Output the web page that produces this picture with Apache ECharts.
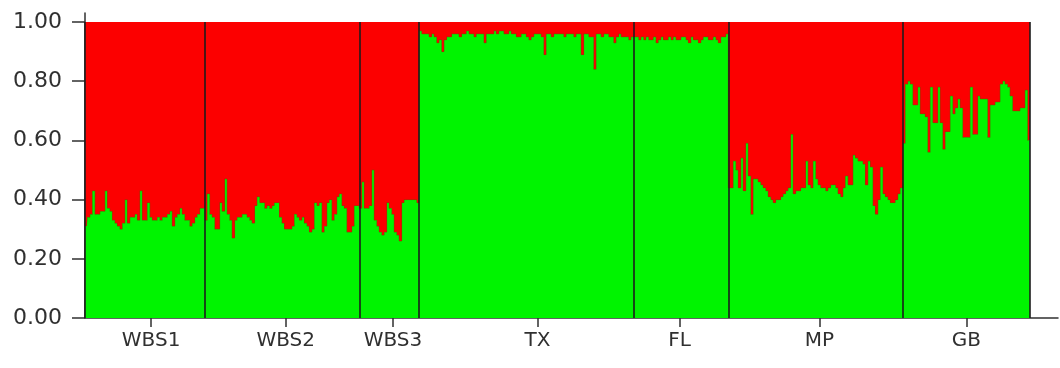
<!DOCTYPE html>
<html>
<head>
<meta charset="utf-8">
<script src="https://cdn.jsdelivr.net/npm/echarts@6/dist/echarts.min.js"></script>
<style>
  html, body { margin: 0; padding: 0; background: #ffffff; }
  #chart { width: 1060px; height: 368px; }
</style>
</head>
<body>
<div id="chart"></div>
<script>
// Membership proportion in cluster 1 (green) for each individual, by population.
// Cluster 2 (red) is the remainder of each bar.
const populations = ['WBS1', 'WBS2', 'WBS3', 'TX', 'FL', 'MP', 'GB'];

const wbs1 = [0.31,0.34,0.35,0.43,0.35,0.35,0.36,0.36,0.43,0.37,0.36,0.33,0.32,0.31,0.30,0.32,0.40,0.32,0.34,0.34,
  0.35,0.33,0.43,0.33,0.33,0.39,0.34,0.33,0.33,0.34,0.33,0.34,0.34,0.35,0.36,0.31,0.34,0.35,0.37,0.35,
  0.33,0.33,0.31,0.32,0.34,0.35,0.37,0.37];
const wbs2 = [0.33,0.42,0.35,0.34,0.30,0.30,0.39,0.36,0.47,0.35,0.33,0.27,0.33,0.34,0.34,0.35,0.35,0.34,0.33,0.32,
  0.38,0.41,0.39,0.39,0.37,0.38,0.37,0.38,0.39,0.39,0.34,0.32,0.30,0.30,0.30,0.31,0.35,0.34,0.33,0.34,
  0.32,0.31,0.29,0.30,0.39,0.38,0.39,0.29,0.31,0.39,0.40,0.33,0.35,0.41,0.42,0.38,0.37,0.29,0.29,0.31,
  0.38,0.38];
const wbs3 = [0.37,0.46,0.37,0.37,0.38,0.50,0.33,0.31,0.29,0.28,0.29,0.39,0.37,0.35,0.29,0.28,0.26,0.39,0.40,0.40,
  0.40,0.40,0.40,0.39];
const tx = [0.97,0.96,0.96,0.96,0.95,0.96,0.95,0.93,0.94,0.90,0.94,0.95,0.95,0.96,0.96,0.96,0.95,0.96,0.96,0.97,
  0.96,0.96,0.95,0.96,0.96,0.96,0.93,0.96,0.96,0.96,0.97,0.96,0.97,0.97,0.96,0.96,0.97,0.96,0.96,0.95,
  0.95,0.96,0.96,0.95,0.94,0.95,0.96,0.96,0.96,0.95,0.89,0.96,0.96,0.95,0.96,0.96,0.96,0.96,0.95,0.96,
  0.96,0.96,0.95,0.96,0.96,0.89,0.96,0.96,0.95,0.95,0.84,0.96,0.96,0.95,0.96,0.96,0.95,0.95,0.93,0.95,
  0.96,0.95,0.95,0.95,0.94,0.95];
const fl = [0.95,0.95,0.94,0.95,0.94,0.95,0.94,0.94,0.95,0.93,0.94,0.95,0.94,0.94,0.95,0.94,0.95,0.94,0.94,0.95,
  0.95,0.94,0.93,0.95,0.94,0.94,0.93,0.94,0.95,0.95,0.94,0.94,0.95,0.94,0.93,0.95,0.95,0.96];
const mp = [0.44,0.44,0.53,0.50,0.44,0.54,0.43,0.59,0.48,0.35,0.47,0.47,0.46,0.45,0.44,0.43,0.41,0.40,0.39,0.40,
  0.40,0.41,0.42,0.43,0.44,0.62,0.42,0.43,0.43,0.44,0.44,0.53,0.45,0.44,0.53,0.47,0.45,0.44,0.44,0.43,
  0.44,0.45,0.45,0.44,0.42,0.41,0.44,0.48,0.45,0.45,0.55,0.54,0.53,0.53,0.52,0.45,0.53,0.51,0.38,0.35,
  0.40,0.51,0.42,0.41,0.40,0.39,0.39,0.40,0.42,0.44];
const gb = [0.59,0.79,0.80,0.79,0.72,0.72,0.78,0.69,0.69,0.68,0.56,0.78,0.66,0.66,0.78,0.66,0.57,0.63,0.63,0.75,
  0.69,0.71,0.74,0.71,0.61,0.61,0.61,0.78,0.62,0.62,0.75,0.74,0.74,0.74,0.61,0.72,0.72,0.73,0.73,0.79,
  0.80,0.79,0.78,0.75,0.70,0.70,0.70,0.71,0.71,0.77,0.60];

// Individual (within each population) under which the population name is written
const labelOffset = [26, 32, 13, 47, 18, 36, 25];

// Y-axis tick values
const yTicks = [0, 0.2, 0.4, 0.6, 0.8, 1.0];

const groups = [wbs1, wbs2, wbs3, tx, fl, mp, gb];

const categories = [];
const green = [];
const groupStarts = new Set();
const labelPositions = new Map();
groups.forEach((vals, g) => {
  const start = categories.length;
  groupStarts.add(start);
  labelPositions.set(start + labelOffset[g], populations[g]);
  vals.forEach((v, i) => {
    categories.push(populations[g] + '_' + (i + 1));
    green.push(v);
  });
});
const red = green.map(v => +(1 - v).toFixed(4));
// [individual index, cluster 1 share, cluster 2 share]
const barData = green.map((g, i) => [i, g, red[i]]);

const GREEN = '#00f400';
const RED = '#fc0000';
const INK = '#303030';
const FONT = 'DejaVu Sans';

// One stacked bar per individual; edges snapped to whole pixels so
// neighbouring bars tile without hairline gaps.
function renderIndividual(params, api) {
  const idx = api.value(0);
  const q1 = api.value(1);
  const q2 = api.value(2);
  const base = api.coord([idx, 0]);
  const bw = api.size([1, 0])[0];
  const x0 = Math.round(base[0] - bw / 2);
  const x1 = Math.round(base[0] + bw / 2);
  const yBase = Math.round(base[1]);
  const yMid = Math.round(api.coord([idx, q1])[1]);
  const yTop = Math.round(api.coord([idx, q1 + q2])[1]);
  return {
    type: 'group',
    children: [
      { type: 'rect', shape: { x: x0, y: yMid, width: x1 - x0, height: yBase - yMid }, style: { fill: GREEN } },
      { type: 'rect', shape: { x: x0, y: yTop, width: x1 - x0, height: yMid - yTop }, style: { fill: RED } }
    ]
  };
}

const chart = echarts.init(document.getElementById('chart'), null, { renderer: 'canvas' });

chart.setOption({
  animation: false,
  backgroundColor: '#ffffff',
  grid: [
    { left: 85, right: 30, top: 22, bottom: 50, containLabel: false },
    { left: 85, right: 2, top: 13, bottom: 50, containLabel: false }
  ],
  xAxis: [
    {
      type: 'category',
      gridIndex: 0,
      data: categories,
      boundaryGap: true,
      z: 10,
      axisLine: { show: false },
      axisTick: {
        show: true,
        alignWithLabel: true,
        length: 9,
        interval: (idx) => labelPositions.has(idx),
        lineStyle: { color: INK, width: 1.5 }
      },
      axisLabel: {
        show: true,
        interval: (idx) => labelPositions.has(idx),
        formatter: (val, idx) => labelPositions.get(idx) || '',
        fontFamily: FONT,
        fontSize: 20,
        color: INK,
        margin: 13
      },
      splitLine: {
        show: true,
        interval: (idx) => groupStarts.has(idx),
        lineStyle: { color: '#1c1c1c', width: 1.6 }
      }
    },
    {
      type: 'value',
      gridIndex: 1,
      min: 0,
      max: 1,
      axisLine: { show: true, onZero: false, lineStyle: { color: INK, width: 1.5 } },
      axisTick: { show: false },
      axisLabel: { show: false },
      splitLine: { show: false }
    }
  ],
  yAxis: [
    {
      type: 'value',
      gridIndex: 0,
      min: yTicks[0],
      max: yTicks[yTicks.length - 1],
      interval: 0.2,
      axisLine: { show: false },
      axisTick: { show: true, length: 13, lineStyle: { color: INK, width: 1.5 } },
      axisLabel: {
        fontFamily: FONT,
        fontSize: 22,
        color: INK,
        margin: 23,
        formatter: v => v.toFixed(2)
      },
      splitLine: { show: false }
    },
    {
      type: 'value',
      gridIndex: 1,
      min: 0,
      max: 1,
      axisLine: { show: true, onZero: false, lineStyle: { color: INK, width: 1.5 } },
      axisTick: { show: false },
      axisLabel: { show: false },
      splitLine: { show: false }
    }
  ],
  series: [
    {
      name: 'Membership',
      type: 'custom',
      xAxisIndex: 0,
      yAxisIndex: 0,
      data: barData,
      encode: { x: 0, y: [1, 2] },
      renderItem: renderIndividual,
      silent: true
    },
    {
      // dark seam where the two clusters meet in each bar
      name: 'edge',
      type: 'line',
      xAxisIndex: 0,
      yAxisIndex: 0,
      data: green,
      step: 'middle',
      symbol: 'none',
      z: 4,
      lineStyle: { color: '#7a4a00', width: 1, opacity: 0.55 },
      silent: true
    }
  ]
});
</script>
</body>
</html>
